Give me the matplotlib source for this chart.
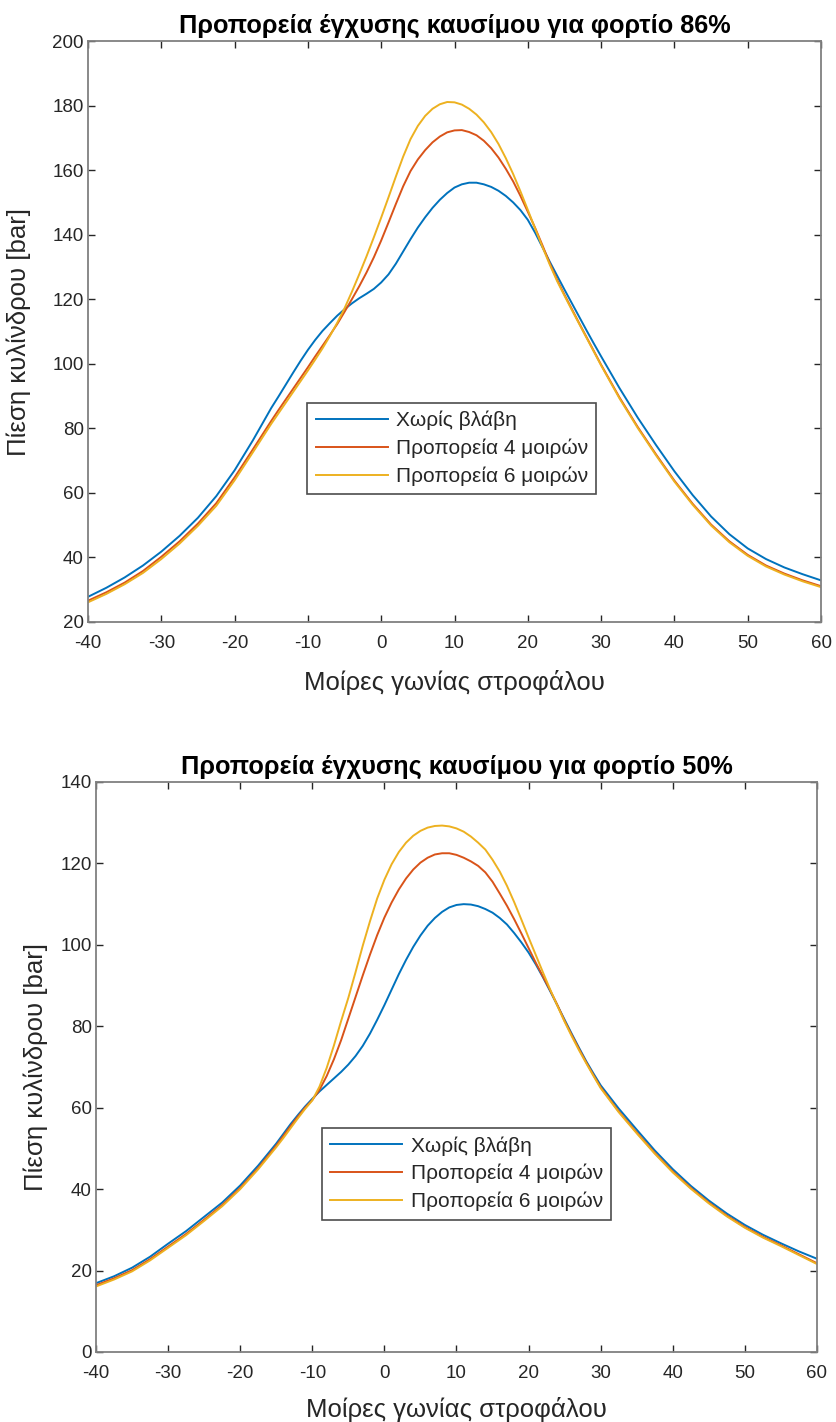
import matplotlib
matplotlib.use("Agg")
import matplotlib.pyplot as plt

plt.rcParams['font.family'] = ['Liberation Sans', 'DejaVu Sans']
plt.rcParams['axes.unicode_minus'] = False

# ---------------- data ----------------
crank_angle = [-40, -37.5, -35, -32.5, -30, -27.5, -25, -22.5, -20, -17.5, -15,
               -14, -13, -12, -11, -10, -9, -8, -7, -6, -5, -4, -3, -2, -1, 0,
               1, 2, 3, 4, 5, 6, 7, 8, 9, 10, 11, 12, 13, 14, 15, 16, 17, 18, 19, 20,
               21, 22, 23, 24, 25, 26, 27, 28, 29, 30,
               32.5, 35, 37.5, 40, 42.5, 45, 47.5, 50, 52.5, 55, 57.5, 60]

# Load 86 %
p86_no_fault = [27.8, 30.6, 33.8, 37.5, 41.8, 46.7, 52.3, 59.0, 67.0, 76.3, 86.3,
                89.9, 93.6, 97.3, 100.9, 104.3, 107.4, 110.2, 112.6, 114.9, 116.9, 118.7, 120.3, 121.7, 123.2, 125.2,
                127.7, 131.0, 134.8, 138.6, 142.2, 145.4, 148.3, 150.8, 152.9, 154.6, 155.6, 156.1, 156.1, 155.6,
                154.8, 153.6, 152.0, 150.0, 147.6, 144.6,
                140.6, 136.1, 131.6, 127.3, 123.0, 118.8, 114.6, 110.4, 106.3, 102.3,
                92.5, 83.3, 74.8, 66.7, 59.3, 52.7, 47.2, 42.8, 39.5, 36.9, 34.8, 32.9]
p86_adv4 = [26.6, 29.2, 32.2, 35.8, 40.2, 45.0, 50.5, 56.8, 64.8, 73.5, 82.3,
            85.7, 89.0, 92.3, 95.6, 98.9, 102.3, 105.6, 108.9, 112.3, 116.1, 120.0, 124.0, 128.3, 133.0, 138.2,
            143.8, 149.5, 155.0, 159.7, 163.3, 166.2, 168.6, 170.4, 171.7, 172.3, 172.4, 171.8, 170.8, 169.1,
            166.8, 163.9, 160.4, 156.5, 152.0, 147.1,
            142.1, 136.7, 131.1, 126.0, 121.4, 117.0, 112.6, 108.3, 104.0, 99.7,
            89.6, 80.4, 71.9, 63.8, 56.6, 50.2, 45.0, 40.8, 37.5, 35.0, 32.9, 31.1]
p86_adv6 = [26.1, 28.7, 31.7, 35.2, 39.5, 44.3, 49.8, 56.0, 63.9, 72.6, 81.4,
            84.7, 88.0, 91.3, 94.6, 97.9, 101.3, 104.8, 108.6, 112.7, 117.2, 122.3, 127.7, 133.3, 139.2, 145.3,
            151.6, 158.0, 164.2, 169.6, 173.7, 176.8, 179.0, 180.4, 181.1, 181.0, 180.3, 179.0, 177.2, 174.8,
            171.8, 168.1, 163.7, 158.8, 153.4, 147.7,
            141.9, 136.2, 130.7, 125.6, 121.1, 116.7, 112.4, 108.1, 103.8, 99.5,
            89.3, 80.1, 71.6, 63.5, 56.3, 49.9, 44.7, 40.5, 37.2, 34.7, 32.6, 30.8]

# Load 50 %
p50_no_fault = [16.9, 18.6, 20.7, 23.4, 26.6, 29.7, 33.2, 36.7, 40.9, 45.8, 51.2,
                53.6, 56.0, 58.2, 60.3, 62.2, 64.0, 65.6, 67.2, 68.8, 70.6, 72.7, 75.2, 78.2, 81.6, 85.2,
                89.0, 92.8, 96.3, 99.5, 102.3, 104.7, 106.6, 108.1, 109.2, 109.8, 110.0, 109.9, 109.5, 108.8,
                107.9, 106.6, 105.0, 102.9, 100.6, 98.1,
                95.2, 92.0, 88.6, 85.1, 81.6, 78.1, 74.7, 71.4, 68.4, 65.5,
                59.8, 54.6, 49.5, 44.9, 40.8, 37.2, 34.0, 31.2, 28.8, 26.7, 24.7, 22.9]
p50_adv4 = [16.4, 18.1, 20.1, 22.8, 25.9, 29.0, 32.5, 36.1, 40.3, 45.2, 50.7,
            53.1, 55.5, 57.8, 60.0, 61.9, 64.4, 67.8, 71.9, 76.6, 81.9, 87.2, 92.5, 97.6, 102.4, 106.7,
            110.4, 113.6, 116.3, 118.5, 120.2, 121.4, 122.2, 122.5, 122.5, 122.1, 121.4, 120.5, 119.4, 117.8,
            115.5, 112.6, 109.6, 106.3, 102.8, 99.2,
            95.6, 92.2, 88.8, 85.2, 81.3, 77.8, 74.4, 71.1, 68.0, 65.0,
            59.1, 53.9, 48.9, 44.3, 40.3, 36.7, 33.5, 30.7, 28.3, 26.2, 24.0, 21.8]
p50_adv6 = [16.1, 17.8, 19.8, 22.5, 25.6, 28.7, 32.2, 35.8, 40.0, 44.9, 50.3,
            52.6, 55.0, 57.4, 59.7, 61.8, 65.2, 69.8, 75.3, 81.3, 87.0, 93.3, 99.8, 105.8, 111.4, 116.0,
            119.8, 122.8, 125.1, 126.8, 128.0, 128.8, 129.2, 129.3, 129.1, 128.6, 127.8, 126.6, 125.1, 123.4,
            120.9, 118.0, 114.5, 110.5, 106.2, 101.8,
            97.5, 93.2, 89.0, 85.0, 81.1, 77.5, 74.1, 70.9, 67.8, 64.8,
            58.9, 53.7, 48.7, 44.1, 40.1, 36.5, 33.3, 30.5, 28.1, 26.0, 23.8, 21.6]

series_labels = ['Χωρίς βλάβη', 'Προπορεία 4 μοιρών', 'Προπορεία 6 μοιρών']
titles = ['Προπορεία έγχυσης καυσίμου για φορτίο 86%', 'Προπορεία έγχυσης καυσίμου για φορτίο 50%']
xlabel = 'Μοίρες γωνίας στροφάλου'
ylabel = 'Πίεση κυλίνδρου [bar]'
xticks = [-40, -30, -20, -10, 0, 10, 20, 30, 40, 50, 60]
yticks_86 = [20, 40, 60, 80, 100, 120, 140, 160, 180, 200]
yticks_50 = [0, 20, 40, 60, 80, 100, 120, 140]

colors = ['#0072BD', '#D95319', '#EDB120']
axis_gray = '#808080'
text_col = '#262626'

W, H = 837, 1422
fig = plt.figure(figsize=(W / 100, H / 100), dpi=100)


def make_axes(rect_px, series, yticks, ylim, title, legend_center, ylab_x, xlab_y):
    l, t, r, b = rect_px
    ax = fig.add_axes([l / W, (H - b) / H, (r - l) / W, (b - t) / H])
    for s, c, lab in zip(series, colors, series_labels):
        ax.plot(crank_angle, s, color=c, lw=1.4, label=lab)
    ax.set_xlim(-40, 60)
    ax.set_ylim(*ylim)
    ax.set_xticks(xticks)
    ax.set_yticks(yticks)
    ax.tick_params(direction='in', top=True, right=True, length=5, width=1,
                   color=text_col, labelsize=13.5, labelcolor=text_col)
    ax.tick_params(axis='x', pad=9.5)
    ax.tick_params(axis='y', pad=3)
    for sp in ax.spines.values():
        sp.set_color(axis_gray)
        sp.set_linewidth(1.3)
    ax.set_title(title, fontsize=18.2, fontweight='bold', color='black', pad=6)
    ax.set_xlabel(xlabel, fontsize=18.5, color=text_col)
    ax.set_ylabel(ylabel, fontsize=18.5, color=text_col)
    ax.yaxis.set_label_coords(ylab_x, 0.5)
    ax.xaxis.set_label_coords(0.5, xlab_y)
    leg = ax.legend(loc='center', bbox_to_anchor=legend_center, fontsize=15,
                    handlelength=3.45, handletextpad=0.4, borderpad=0.4,
                    labelspacing=0.4, fancybox=False, framealpha=1,
                    edgecolor='#4d4d4d', borderaxespad=0)
    leg.get_frame().set_linewidth(1.2)
    for txt in leg.get_texts():
        txt.set_color(text_col)
    return ax


make_axes((88, 41, 821, 622), [p86_no_fault, p86_adv4, p86_adv6], yticks_86, (20, 200),
          titles[0], (0.4965, 0.2985), -0.078, -0.083)
make_axes((96, 782, 817, 1352), [p50_no_fault, p50_adv4, p50_adv6], yticks_50, (0, 140),
          titles[1], (0.514, 0.313), -0.066, -0.079)

fig.savefig('out.png', dpi=100)
